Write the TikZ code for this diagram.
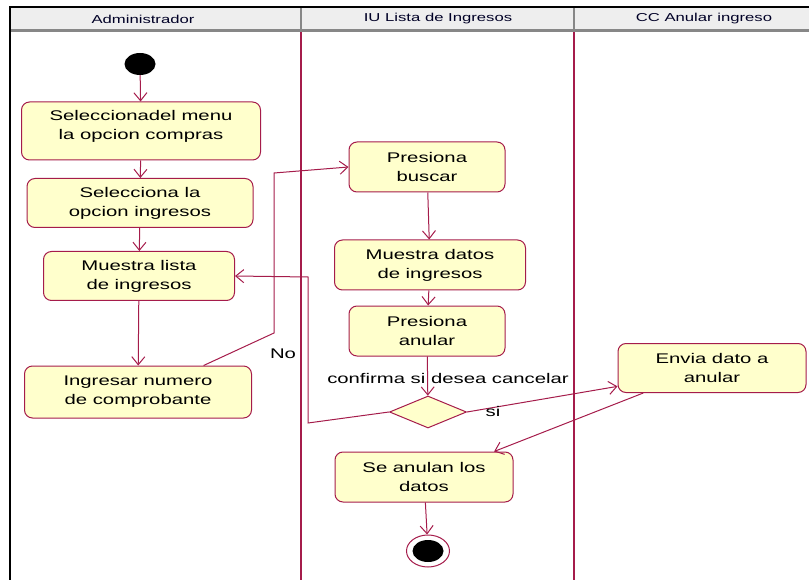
\documentclass[tikz,border=0pt]{standalone}
\usepackage{fontspec}
\setmainfont{Liberation Sans}[FakeStretch=1.45]
\usepackage{xcolor}
\usetikzlibrary{arrows.meta}
\usetikzlibrary{shapes.geometric, math}
\definecolor{rosered}{RGB}{165,28,75}
\definecolor{actfill}{RGB}{255,255,204}
\definecolor{headgray}{RGB}{238,238,238}
\definecolor{headline}{RGB}{135,135,135}

\tikzset{
  act/.style={draw=rosered, fill=actfill, rounded corners=8pt, align=center,
    inner sep=2pt, line width=1pt, font=\fontsize{14pt}{19pt}\selectfont},
  flow/.style={draw=rosered, line width=1pt,
    -{Straight Barb[length=8pt,width=13pt,line width=1pt]}},
  lane/.style={draw=rosered, line width=1.2pt},
  lbl/.style={font=\fontsize{14pt}{17pt}\selectfont},
  headtxt/.style={font=\fontsize{11.5pt}{13pt}\selectfont, text=black!85!blue},
}

\begin{document}
\begin{tikzpicture}[x=1pt, y=-1pt]
\tikzmath{
\laneA=301;
\laneB=574;
\htop=7;
\hbot=31;
}
\useasboundingbox (0,0) rectangle (809,580);

% swimlane headers
\fill[headgray] (10,\htop) rectangle (809,\hbot);
\draw[headline, line width=2.5pt] (\laneA,\htop) -- (\laneA,\hbot);
\draw[headline, line width=2.5pt] (\laneB,\htop) -- (\laneB,\hbot);
\draw[headline, line width=3pt] (10,\hbot) -- (809,\hbot);
\node[headtxt] (hadmin) at (143,19) {Administrador};
\node[headtxt] (hlista) at (438,19) {IU Lista de Ingresos};
\node[headtxt] (hanular) at (704,19) {CC Anular ingreso};

% lane separators and frame
\draw[lane] (\laneA,\hbot+1.5) -- (\laneA,580);
\draw[lane] (\laneB,\hbot+1.5) -- (\laneB,580);
\draw[black, line width=2pt] (10,580) -- (10,\htop) -- (809,\htop);

% Administrador
\node[ellipse, fill=black, minimum width=31pt, minimum height=22pt, inner sep=0] (start) at (140,64) {};
\node[act, minimum width=239pt, minimum height=58pt] (selmenu) at (141,131) {Seleccionadel menu\\la opcion compras\\[-6pt]\mbox{}};
\node[act, minimum width=226pt, minimum height=49pt] (selingr) at (140,203) {Selecciona la\\opcion ingresos};
\node[act, minimum width=191pt, minimum height=49pt] (mlista) at (139,276) {Muestra lista\\de ingresos};
\node[act, minimum width=227pt, minimum height=52pt] (ingnum) at (138,392) {Ingresar numero\\de comprobante};

% IU Lista de Ingresos
\node[act, minimum width=156pt, minimum height=50pt] (buscar) at (427,167) {Presiona\\buscar};
\node[act, minimum width=191pt, minimum height=50pt] (mdatos) at (430,265) {Muestra datos\\de ingresos};
\node[act, minimum width=156pt, minimum height=50pt] (anular) at (427,331) {Presiona\\anular};
\node[diamond, draw=rosered, fill=actfill, line width=1pt, minimum width=77pt, minimum height=32pt, inner sep=0] (decide) at (428,412) {};
\node[act, minimum width=178pt, minimum height=50pt] (anulan) at (424,477) {Se anulan los\\datos};
\node[ellipse, draw=rosered, fill=white, line width=1pt, minimum width=43pt, minimum height=32pt, inner sep=0] (fin) at (428,551) {};
\node[ellipse, fill=black, minimum width=31pt, minimum height=22pt, inner sep=0] (fincore) at (fin) {};

% CC Anular ingreso
\node[act, minimum width=188pt, minimum height=49pt] (envia) at (712,368) {Envia dato a\\anular};

% bends
\coordinate (k1) at (274,333);
\coordinate (k2) at (274,173);
\coordinate (n1) at (308,423);
\coordinate (n2) at (308,277);

% flows
\draw[flow] (start) -- (selmenu);
\draw[flow] (selmenu) -- (selingr);
\draw[flow] (selingr) -- (mlista);
\draw[flow] (mlista) -- (ingnum);
\draw[flow] (ingnum.22) -- (k1) -- (k2) -- (buscar.west);
\draw[flow] (buscar) -- (mdatos);
\draw[flow] (mdatos) -- (anular);
\draw[flow] (anular) -- (decide);
\draw[flow] (decide.west) -- (n1) -- (n2) -- (mlista.east);
\draw[flow] (decide.east) -- (envia.191);
\draw[flow] (envia.200) -- (anulan.20);
\draw[flow] (anulan) -- (fin);

\node[lbl] (confirma) at (448,378) {confirma si desea cancelar};
\node[lbl] (no) at (283,354) {No};
\node[lbl] (si) at (493,411) {si};
\end{tikzpicture}
\end{document}
